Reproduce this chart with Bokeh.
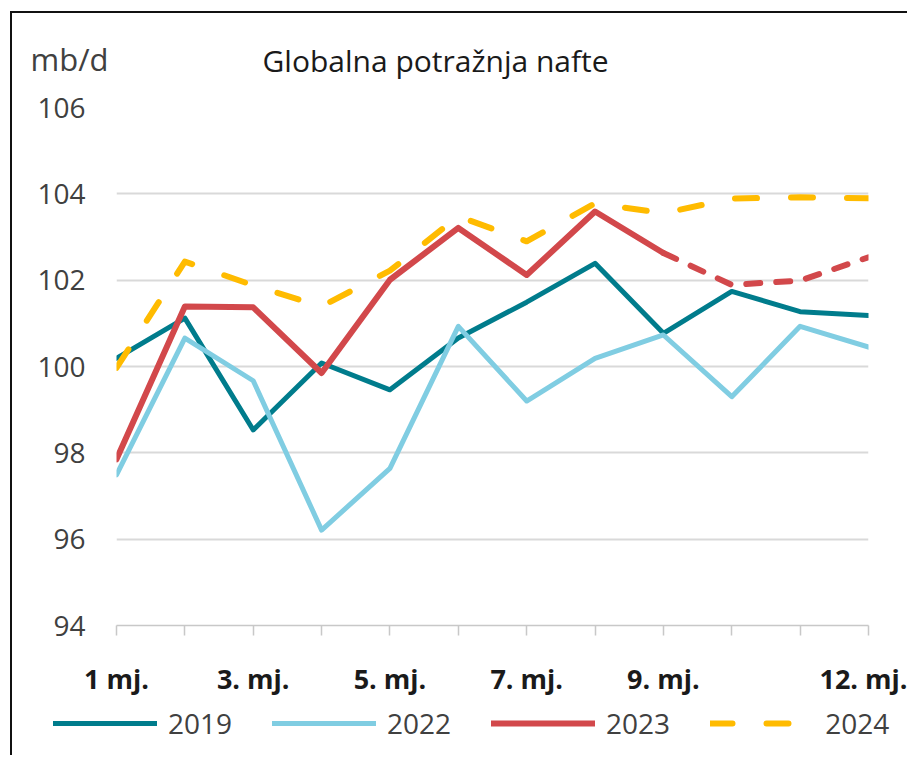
from bokeh.plotting import figure
from bokeh.layouts import column
from bokeh.models import (FixedTicker, Range1d, Label, Legend, LegendItem)
from bokeh.embed import file_html
from bokeh.resources import INLINE

months = [1, 2, 3, 4, 5, 6, 7, 8, 9, 10, 11, 12]
v2019 = [100.19, 101.12, 98.53, 100.08, 99.46, 100.66, 101.49, 102.39, 100.77, 101.74, 101.27, 101.18]
v2022 = [97.49, 100.66, 99.67, 96.21, 97.64, 100.93, 99.20, 100.19, 100.73, 99.30, 100.93, 100.45]
v2023 = [97.85, 101.39, 101.37, 99.85, 102.01, 103.21, 102.12, 103.59, 102.63, 101.89, 101.99, 102.53]
v2024 = [99.97, 102.43, 101.88, 101.39, 102.22, 103.48, 102.90, 103.78, 103.55, 103.89, 103.92, 103.90]
n_actual_2023 = 9  # months of 2023 drawn solid, rest dashed

y_ticks = [94, 96, 98, 100, 102, 104, 106]
x_tick_labels = {1: "1 mj.", 2: "", 3: "3. mj.", 4: "", 5: "5. mj.", 6: "", 7: "7. mj.",
                 8: "", 9: "9. mj.", 10: "", 11: "", 12: "12. mj."}
title_text = "Globalna potražnja nafte"
unit_text = "mb/d"
series_names = ["2019", "2022", "2023", "2024"]

FONT = "Open Sans"
C2019 = "#007c8c"
C2022 = "#80cde2"
C2023 = "#d2484b"
C2024 = "#ffbb00"
W = 895
HEADER_H = 70
TOP_PAD = 24
FOOTER_H = 50

line_styles = {
    "2019": dict(line_color=C2019, line_width=5, line_join="round", line_cap="round"),
    "2022": dict(line_color=C2022, line_width=5, line_join="round", line_cap="round"),
    "2023": dict(line_color=C2023, line_width=6, line_join="round", line_cap="round"),
    "2024": dict(line_color=C2024, line_width=6, line_join="round", line_cap="round", line_dash="22 34"),
}


def blank(height):
    f = figure(width=W, height=height, output_backend="svg", toolbar_location=None,
               x_axis_type=None, y_axis_type=None,
               x_range=Range1d(0, W), y_range=Range1d(height, 0),
               min_border=0, min_border_left=0, min_border_right=0,
               min_border_top=0, min_border_bottom=0)
    if "frame_align" in f.properties():
        f.frame_align = False
    f.outline_line_color = None
    f.grid.visible = False
    f.background_fill_color = "white"
    f.border_fill_color = "white"
    return f


# ---- header with unit and title
header = blank(HEADER_H)
header.add_layout(Label(x=18, y=45, text=unit_text, text_font=FONT, text_font_size="31px",
                        text_color="#404040", text_baseline="middle", text_align="left"))
header.add_layout(Label(x=250, y=47, text=title_text, text_font=FONT, text_font_size="30px",
                        text_color="#1a1a1a", text_baseline="middle", text_align="left"))

# ---- main chart
p = figure(width=W, height=TOP_PAD + 518 + 80, output_backend="svg", toolbar_location=None,
           x_range=Range1d(1, 12), y_range=Range1d(94, 106),
           min_border_left=104, min_border_right=39, min_border_top=TOP_PAD, min_border_bottom=80)
p.outline_line_color = None
p.background_fill_color = "white"
p.border_fill_color = "white"

p.xgrid.grid_line_color = None
p.ygrid.grid_line_color = "#d9d9d9"
p.ygrid.grid_line_width = 2

p.yaxis.ticker = FixedTicker(ticks=y_ticks)
p.yaxis.axis_line_color = None
p.yaxis.major_tick_line_color = None
p.yaxis.minor_tick_line_color = None
p.yaxis.major_tick_out = 0
p.yaxis.major_label_standoff = 31
p.yaxis.major_label_text_font = FONT
p.yaxis.major_label_text_font_size = "28px"
p.yaxis.major_label_text_color = "#404040"

p.xaxis.ticker = FixedTicker(ticks=months)
p.xaxis.major_label_overrides = x_tick_labels
p.xaxis.axis_line_color = "#c8c8c8"
p.xaxis.axis_line_width = 1.5
p.xaxis.major_tick_line_color = "#c8c8c8"
p.xaxis.major_tick_line_width = 1.5
p.xaxis.major_tick_in = 0
p.xaxis.major_tick_out = 10
p.xaxis.minor_tick_line_color = None
p.xaxis.major_label_standoff = 24
p.xaxis.major_label_text_font = FONT
p.xaxis.major_label_text_font_size = "27px"
p.xaxis.major_label_text_font_style = "bold"
p.xaxis.major_label_text_color = "#1a1a1a"

p.line(months, v2019, **line_styles["2019"])
p.line(months, v2022, **line_styles["2022"])
p.line(months[:n_actual_2023], v2023[:n_actual_2023], **line_styles["2023"])
p.line(months[n_actual_2023 - 1:], v2023[n_actual_2023 - 1:], line_dash="14 16", **line_styles["2023"])
p.line(months, v2024, **line_styles["2024"])

# ---- footer with legend (legend samples take their style from placeholder renderers)
footer = blank(FOOTER_H)
nan = float("nan")
legend_renderers = [footer.line([nan], [nan], **line_styles[n]) for n in series_names]
legend = Legend(items=[LegendItem(label=n, renderers=[r]) for n, r in zip(series_names, legend_renderers)],
                orientation="horizontal", location=(41, 13),
                glyph_width=104, glyph_height=34, label_standoff=11, spacing=40,
                padding=0, margin=0, border_line_color=None, background_fill_alpha=0,
                label_text_font=FONT, label_text_font_size="28px", label_text_color="#404040")
footer.add_layout(legend, "center")

layout = column(header, p, footer, spacing=0)
layout.styles = {"border-top": "2px solid #111", "border-left": "2px solid #111",
                 "margin-top": "11px", "margin-left": "10px"}

open("out.html", "w").write(file_html(layout, INLINE))
